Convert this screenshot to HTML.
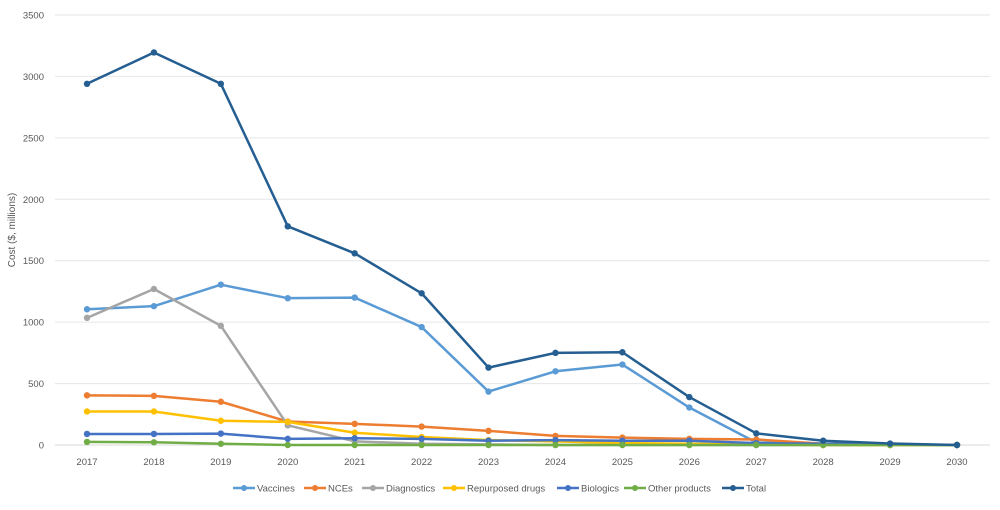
<!DOCTYPE html>
<html><head><meta charset="utf-8"><style>
body{margin:0;background:#fff;font-family:"Liberation Sans",sans-serif;}
svg text{font-family:"Liberation Sans",sans-serif;fill:#595959;}
</style></head><body>
<svg id="chart" width="1000" height="505" xmlns="http://www.w3.org/2000/svg"></svg>
<script>
const years=[2017,2018,2019,2020,2021,2022,2023,2024,2025,2026,2027,2028,2029,2030];
const yTicks=[0,500,1000,1500,2000,2500,3000,3500];
const seriesNames=["Vaccines","NCEs","Diagnostics","Repurposed drugs","Biologics","Other products","Total"];
const seriesColors=["#5b9bd5","#ed7d31","#a5a5a5","#ffc000","#4472c4","#70ad47","#255e91"];
const vaccines=[1105,1130,1305,1195,1200,960,435,600,655,305,20,10,5,0];
const nces=[404,400,352,191,172,150,115,74,60,50,45,10,5,0];
const diagnostics=[1035,1270,970,160,30,10,5,0,0,0,0,0,0,0];
const repurposed=[273,273,197,188,100,65,40,30,15,10,5,0,0,0];
const biologics=[90,90,93,50,55,50,35,40,35,35,15,10,5,0];
const other=[25,22,10,0,0,0,0,0,0,0,0,0,0,0];
const total=[2940,3195,2940,1780,1560,1235,630,750,755,390,95,35,12,0];
const allSeries=[vaccines,nces,diagnostics,repurposed,biologics,other,total];

const NS="http://www.w3.org/2000/svg";
const svg=document.getElementById('chart');
const x0=87,x1=957,yb=445,yt=15,ymax=3500;
const X=i=>x0+(x1-x0)*i/(years.length-1);
const Y=v=>yb-(yb-yt)*v/ymax;
function mk(t,a){const e=document.createElementNS(NS,t);for(const k in a)e.setAttribute(k,a[k]);svg.appendChild(e);return e;}
yTicks.forEach(v=>{
  const g=mk('line',{x1:55,x2:990,y1:Y(v),y2:Y(v),stroke:v===0?'#d9d9d9':'#e6e6e6','stroke-width':1});
  
  
  const t=mk('text',{x:44,y:Y(v)+3.5,'text-anchor':'end','font-size':9.5});
  t.textContent=v;
  
  
});
years.forEach((yr,i)=>{
  const t=mk('text',{x:X(i),y:465,'text-anchor':'middle','font-size':9.5});
  t.textContent=yr;
  
  
});
const yt2=mk('text',{x:0,y:0,'text-anchor':'middle','font-size':10,transform:'translate(15,230) rotate(-90)'});
yt2.textContent='Cost ($, millions)';


allSeries.forEach((d,s)=>{
  const pts=d.map((v,i)=>X(i)+','+Y(v)).join(' ');
  const pl=mk('polyline',{points:pts,fill:'none',stroke:seriesColors[s],'stroke-width':2.5,'stroke-linejoin':'round'});
  
  
  d.forEach((v,i)=>{
    const c=mk('circle',{cx:X(i),cy:Y(v),r:3.2,fill:seriesColors[s]});
    
    
  });
});
const legX=[233,304,362,443,557,624,722];
seriesNames.forEach((n,s)=>{
  const lx=legX[s];
  const l=mk('line',{x1:lx,x2:lx+22,y1:488,y2:488,stroke:seriesColors[s],'stroke-width':2.5});
  
  
  const c=mk('circle',{cx:lx+11,cy:488,r:3,fill:seriesColors[s]});
  
  
  const t=mk('text',{x:lx+24,y:491.5,'font-size':9.5});
  t.textContent=n;
  
  
});
</script>
</body></html>
